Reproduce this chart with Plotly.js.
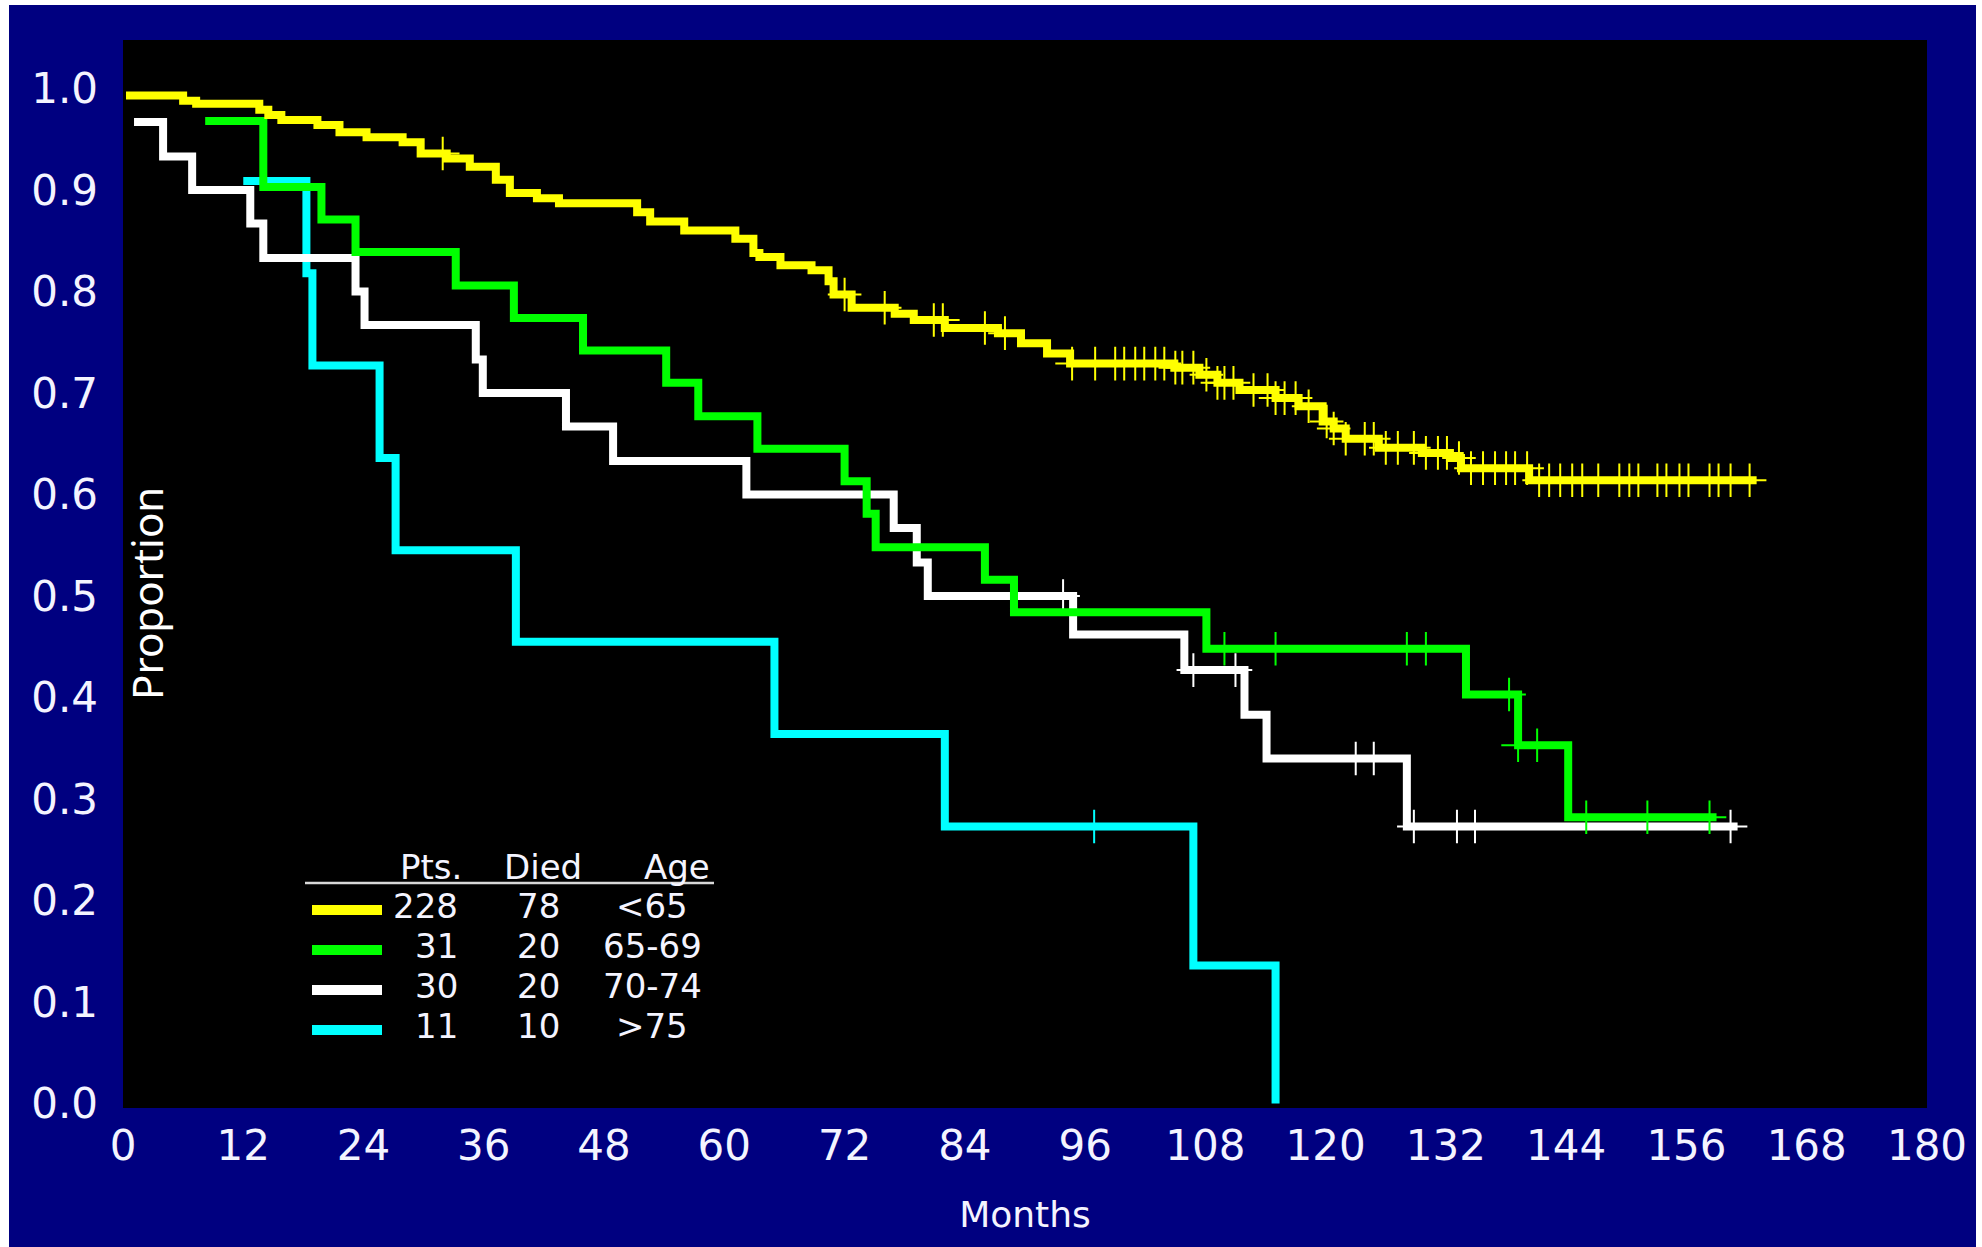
<!DOCTYPE html>
<html><head><meta charset="utf-8">
<script src="https://cdn.plot.ly/plotly-3.0.1.min.js"></script>
<style>
html,body{margin:0;padding:0;background:#ffffff;width:1982px;height:1247px;overflow:hidden}
#chart{position:absolute;left:9px;top:5px;width:1967px;height:1242px}
</style></head><body><div id="chart"></div>
<script>
// ---------------- data ----------------
const groupNames = ['<65', '65-69', '70-74', '>75'];
const patients   = [228, 31, 30, 11];
const died       = [78, 20, 20, 10];

const xTickVals = [0, 12, 24, 36, 48, 60, 72, 84, 96, 108, 120, 132, 144, 156, 168, 180];
const yTickVals = [0.0, 0.1, 0.2, 0.3, 0.4, 0.5, 0.6, 0.7, 0.8, 0.9, 1.0];
const yTickText = ['0.0', '0.1', '0.2', '0.3', '0.4', '0.5', '0.6', '0.7', '0.8', '0.9', '1.0'];

// <65 : step times (months) and survival after each step
const under65Times = [0.3, 6.0, 7.3, 13.6, 14.5, 15.8, 19.4, 21.6, 24.3, 27.9, 29.7, 32.3, 34.6, 37.2, 38.6, 41.3, 43.5, 51.3, 52.6, 56.0, 61.1, 62.9, 63.5, 65.6, 68.7, 70.4, 70.9, 72.7, 77.0, 78.9, 82.0, 87.3, 89.6, 92.2, 94.5, 104.9, 107.4, 109.2, 111.4, 115.0, 117.3, 119.7, 120.8, 122.0, 125.3, 129.6, 132.4, 133.5, 140.3, 163.0];
const under65Surv  = [0.993, 0.988, 0.985, 0.979, 0.974, 0.969, 0.964, 0.957, 0.952, 0.947, 0.936, 0.931, 0.923, 0.910, 0.897, 0.892, 0.887, 0.878, 0.869, 0.860, 0.852, 0.838, 0.834, 0.826, 0.821, 0.810, 0.797, 0.784, 0.778, 0.772, 0.764, 0.759, 0.749, 0.739, 0.729, 0.725, 0.718, 0.710, 0.703, 0.695, 0.687, 0.672, 0.665, 0.655, 0.646, 0.641, 0.636, 0.626, 0.614, 0.614];
const under65Censor = [31.9, 72.0, 76.0, 80.9, 81.8, 86.0, 88.0, 94.7, 97.0, 99.0, 99.9, 101.0, 101.9, 103.0, 103.9, 105.0, 105.7, 106.8, 108.1, 109.2, 109.9, 110.8, 112.8, 114.2, 115.0, 115.9, 117.0, 118.3, 120.1, 120.8, 122.0, 123.9, 124.8, 126.0, 127.2, 128.8, 130.0, 131.2, 132.1, 133.3, 134.5, 135.7, 136.9, 138.0, 138.9, 140.1, 141.3, 142.3, 143.4, 144.6, 145.6, 147.2, 149.3, 150.3, 151.2, 153.1, 154.0, 155.3, 156.2, 158.3, 159.2, 160.4, 162.3];

// 65-69
const age6569Times = [8.2, 14.0, 19.8, 23.2, 33.2, 39.0, 45.9, 54.2, 57.4, 63.3, 72.0, 74.2, 75.1, 86.0, 88.9, 108.1, 134.0, 139.2, 144.2, 159.0];
const age6569Surv  = [0.968, 0.903, 0.871, 0.839, 0.806, 0.774, 0.742, 0.710, 0.677, 0.645, 0.613, 0.581, 0.548, 0.516, 0.484, 0.448, 0.403, 0.353, 0.282, 0.282];
const age6569Censor = [109.9, 115.0, 128.1, 130.0, 138.3, 139.2, 141.1, 146.0, 152.1, 158.3];

// 70-74
const age7074Times = [1.1, 4.0, 6.9, 12.7, 14.0, 23.2, 24.1, 35.2, 35.9, 44.2, 48.9, 62.2, 76.9, 79.2, 80.3, 94.8, 105.9, 111.9, 114.1, 128.1, 161.1];
const age7074Surv  = [0.967, 0.933, 0.900, 0.867, 0.833, 0.800, 0.767, 0.733, 0.700, 0.667, 0.633, 0.600, 0.567, 0.533, 0.500, 0.462, 0.427, 0.383, 0.340, 0.273, 0.273];
const age7074Censor = [93.8, 106.8, 111.0, 123.0, 124.8, 128.8, 133.1, 134.9, 160.4];

// >75
const over75Times = [12.0, 18.3, 18.9, 25.6, 27.2, 39.2, 65.0, 82.0, 106.8, 115.0];
const over75Surv  = [0.909, 0.818, 0.727, 0.636, 0.545, 0.455, 0.364, 0.273, 0.136, 0.000];
const over75Censor = [96.9];

// ---------------- styling / build ----------------
const lineColors = ['#ffff00', '#00ff00', '#ffffff', '#00ffff'];
const series = [
  {t: under65Times, s: under65Surv, c: under65Censor},
  {t: age6569Times, s: age6569Surv, c: age6569Censor},
  {t: age7074Times, s: age7074Surv, c: age7074Censor},
  {t: over75Times,  s: over75Surv,  c: over75Censor}
];
function survAt(times, surv, t) {
  let v = surv[0];
  for (let i = 0; i < times.length; i++) { if (times[i] <= t) v = surv[i]; }
  return v;
}
const traces = [];
const order = [3, 2, 1, 0];
order.forEach(i => {
  const d = series[i];
  traces.push({
    type: 'scatter', mode: 'lines', x: d.t, y: d.s,
    line: {shape: 'hv', color: lineColors[i], width: 8},
    name: groupNames[i], showlegend: false, hoverinfo: 'skip'
  });
  traces.push({
    type: 'scatter', mode: 'markers', x: d.c, y: d.c.map(t => survAt(d.t, d.s, t)),
    marker: {symbol: 'cross-thin', size: 24, line: {color: lineColors[i], width: 2}},
    showlegend: false, hoverinfo: 'skip'
  });
});

// pixel helpers (plot area 123..1927 x, 40..1108 y in page pixels)
const PL = 123, PR = 1927, PT = 40, PB = 1108;
const px = X => (X - PL) / (PR - PL);
const py = Y => (PB - Y) / (PB - PT);

const txtColor = '#f4f4ff';
const FAM = 'DejaVu Sans, Liberation Sans, Arial, sans-serif';
const legFont = {family: FAM, size: 34, color: txtColor};
const annotations = [];
const shapes = [];

// y title (inside plot, like reference)
annotations.push({
  xref: 'paper', yref: 'paper', x: px(146), y: py(594), text: 'Proportion',
  textangle: -90, showarrow: false, xanchor: 'center', yanchor: 'middle',
  font: {family: 'Noto Sans, Open Sans, sans-serif', size: 42, color: '#ffffff'}
});

// legend table header
const headers = [['Pts.', 464], ['Died', 584], ['Age', 712]];
headers.forEach(h => annotations.push({
  xref: 'paper', yref: 'paper', x: px(h[1]), y: py(867), text: h[0], showarrow: false,
  xanchor: 'right', yanchor: 'middle', font: legFont
}));
shapes.push({type: 'line', xref: 'paper', yref: 'paper', x0: px(305), x1: px(714), y0: py(883), y1: py(883),
  line: {color: '#d8d8d8', width: 2.5}});

groupNames.forEach((g, i) => {
  const yc = 906 + 40 * i;
  shapes.push({type: 'line', xref: 'paper', yref: 'paper', x0: px(312), x1: px(382), y0: py(yc + 4), y1: py(yc + 4),
    line: {color: lineColors[i], width: 10}});
  annotations.push({xref: 'paper', yref: 'paper', x: px(460), y: py(yc), text: String(patients[i]), showarrow: false,
    xanchor: 'right', yanchor: 'middle', font: legFont});
  annotations.push({xref: 'paper', yref: 'paper', x: px(562), y: py(yc), text: String(died[i]), showarrow: false,
    xanchor: 'right', yanchor: 'middle', font: legFont});
  annotations.push({xref: 'paper', yref: 'paper', x: px(652), y: py(yc), text: g, showarrow: false,
    xanchor: 'center', yanchor: 'middle', font: legFont});
});

const tickFont = {family: FAM, size: 42, color: txtColor};
const layout = {
  width: 1967, height: 1242,
  paper_bgcolor: '#000080', plot_bgcolor: '#000000',
  margin: {l: PL - 9, r: 1976 - PR, t: PT - 5, b: 1247 - PB, pad: 0},
  showlegend: false,
  xaxis: {
    range: [0, 180], tickvals: xTickVals, ticktext: xTickVals.map(String),
    showgrid: false, zeroline: false, showline: false, ticks: '',
    tickfont: tickFont, ticklabelstandoff: 9, automargin: false,
    title: {text: 'Months', font: {family: FAM, size: 36, color: txtColor}, standoff: 32}
  },
  yaxis: {
    range: [-0.0044, 1.0478], tickvals: yTickVals, ticktext: yTickText,
    showgrid: false, zeroline: false, showline: false, ticks: '',
    tickfont: tickFont, ticklabelstandoff: 24, automargin: false
  },
  annotations: annotations,
  shapes: shapes
};
Plotly.newPlot('chart', traces, layout, {displayModeBar: false, staticPlot: true});
</script></body></html>
